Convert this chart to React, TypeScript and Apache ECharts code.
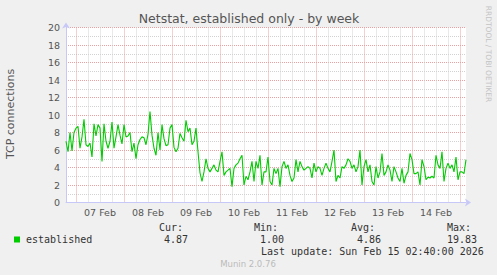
import React, { useEffect, useRef } from 'react';
import * as echarts from 'echarts';

// Hourly samples of established TCP connections, starting Feb 06 19:00
const feb06 = [7.0, 5.8, 8.0, 5.9, 8.0];
const feb07 = [8.5, 8.7, 6.2, 7.5, 9.5, 6.6, 6.4, 6.8, 5.2, 9.0, 7.6, 8.9, 8.5, 4.7, 9.0, 7.0, 6.2, 7.0, 9.2, 6.2, 7.5, 8.9, 7.7, 6.7];
const feb08 = [8.9, 7.5, 7.6, 8.0, 5.8, 6.8, 5.0, 6.6, 7.2, 7.5, 7.4, 6.6, 7.8, 10.4, 7.7, 6.2, 5.4, 8.0, 6.0, 8.9, 7.3, 6.5, 6.6, 8.5];
const feb09 = [8.9, 6.3, 5.8, 6.2, 7.9, 7.4, 7.0, 9.4, 8.1, 8.5, 6.6, 7.0, 8.5, 5.8, 3.4, 2.4, 3.5, 5.0, 3.9, 3.5, 3.9, 4.3, 3.7, 3.5];
const feb10 = [4.7, 5.8, 3.1, 3.5, 3.7, 3.9, 1.8, 3.9, 4.3, 4.5, 5.0, 5.4, 2.0, 3.0, 2.6, 3.5, 4.7, 2.4, 4.7, 3.9, 5.4, 2.0, 3.5, 3.5];
const feb11 = [5.2, 2.4, 2.0, 3.9, 3.3, 3.9, 1.8, 4.1, 4.7, 3.9, 4.3, 3.1, 2.4, 2.8, 4.9, 3.5, 4.7, 4.1, 3.7, 3.9, 4.1, 3.9, 2.8, 4.5];
const feb12 = [3.5, 4.1, 3.9, 3.1, 3.9, 4.5, 3.9, 3.5, 4.7, 6.0, 2.4, 3.1, 2.8, 4.1, 3.9, 4.3, 5.0, 4.7, 3.9, 4.3, 3.5, 4.1, 6.0, 2.0];
const feb13 = [4.1, 4.9, 3.5, 4.3, 2.4, 2.0, 4.1, 2.8, 3.5, 5.6, 3.1, 3.5, 4.3, 3.7, 2.4, 4.1, 3.5, 2.8, 2.4, 3.9, 2.2, 3.1, 3.5, 5.6];
const feb14 = [4.9, 3.3, 3.3, 3.5, 2.0, 4.9, 4.1, 2.6, 2.9, 2.8, 3.0, 2.8, 5.4, 4.3, 3.9, 5.8, 2.4, 3.9, 4.5, 3.9, 4.3, 3.5, 5.2, 2.6];
const feb15 = [3.5, 3.5, 3.3, 4.9];

const connections = [...feb06, ...feb07, ...feb08, ...feb09, ...feb10, ...feb11, ...feb12, ...feb13, ...feb14, ...feb15];

const dayLabels = ['07 Feb', '08 Feb', '09 Feb', '10 Feb', '11 Feb', '12 Feb', '13 Feb', '14 Feb'];
const firstNoonHour = 17; // Feb 07 12:00 relative to Feb 06 19:00
const xMaxHours = 200;
const yMax = 20;

const title = 'Netstat, established only - by week';
const yName = 'TCP connections';
const seriesName = 'established';
const statLabels = ['Cur:', 'Min:', 'Avg:', 'Max:'];
const statValues = ['4.87', '1.00', '4.86', '19.83'];
const lastUpdate = 'Last update: Sun Feb 15 02:40:00 2026';
const sideText = 'RRDTOOL / TOBI OETIKER';
const footer = 'Munin 2.0.76';

const RED = '#eaa0a0';
const GREY = '#d2d2d2';
const NONE = 'rgba(0,0,0,0)';
const AXIS = '#c8c8f8';

const xLineColors = Array.from({ length: 24 }, (_, k) =>
  k === 5 ? RED : k === 11 || k === 17 || k === 23 ? GREY : NONE
);

const statLabelX = [159, 254, 351, 447];
const statValueX = [164, 260, 357, 447];

export default function App() {
  const ref = useRef<HTMLDivElement>(null);
  useEffect(() => {
    if (!ref.current) return;
    const chart = echarts.init(ref.current, undefined, { renderer: 'svg' });
    const mono = { fontFamily: 'DejaVu Sans Mono', fontSize: 10, fill: '#333' };
    const graphics: any[] = [
      { type: 'text', x: 249, y: 18, style: { text: title, textAlign: 'center', textVerticalAlign: 'middle', fontFamily: 'DejaVu Sans', fontSize: 12.5, fill: '#555' } },
      { type: 'text', x: 10, y: 114, rotation: Math.PI / 2, style: { text: yName, textAlign: 'center', textVerticalAlign: 'middle', fontFamily: 'DejaVu Sans', fontSize: 11, fill: '#555' } },
      { type: 'text', x: 488.5, y: 54, rotation: -Math.PI / 2, style: { text: sideText, textAlign: 'center', textVerticalAlign: 'middle', fontFamily: 'DejaVu Sans', fontSize: 7.5, fill: '#c4c4c4' } },
      { type: 'rect', shape: { x: 14, y: 236.5, width: 6, height: 6 }, style: { fill: '#00cc00' } },
      { type: 'text', x: 26, y: 239.5, style: { ...mono, text: seriesName, textVerticalAlign: 'middle' } },
      ...statLabels.map((t, i) => ({ type: 'text', x: statLabelX[i], y: 227.5, style: { ...mono, text: t, textVerticalAlign: 'middle' } })),
      ...statValues.map((t, i) => ({ type: 'text', x: statValueX[i], y: 239.5, style: { ...mono, text: t, textVerticalAlign: 'middle' } })),
      { type: 'text', x: 261, y: 251.5, style: { ...mono, text: lastUpdate, textVerticalAlign: 'middle' } },
      { type: 'text', x: 248, y: 264, style: { text: footer, textAlign: 'center', textVerticalAlign: 'middle', fontFamily: 'DejaVu Sans', fontSize: 8.5, fill: '#bbb' } },
    ];
    chart.setOption({
      animation: false,
      backgroundColor: '#f0f0f0',
      grid: { left: 66, right: 31, top: 27.5, bottom: 72.5, show: true, backgroundColor: '#fff', borderWidth: 0 },
      xAxis: {
        type: 'value',
        min: 0,
        max: xMaxHours,
        interval: 1,
        axisLine: { show: true, onZero: false, lineStyle: { color: AXIS, width: 1 }, symbol: ['none', 'arrow'], symbolSize: [6, 6], symbolOffset: [0, 5] },
        axisTick: { show: false },
        axisLabel: {
          margin: 5,
          fontFamily: 'DejaVu Sans',
          fontSize: 9.5,
          color: '#555',
          formatter: (v: number) => {
            const d = (v - firstNoonHour) / 24;
            return Number.isInteger(d) && d >= 0 && d < dayLabels.length ? dayLabels[d] : '';
          },
        },
        splitLine: { show: true, lineStyle: { color: xLineColors, type: [1, 1], width: 1 } },
      },
      yAxis: {
        type: 'value',
        min: 0,
        max: yMax,
        interval: 1,
        axisLine: { show: true, lineStyle: { color: AXIS, width: 1 }, symbol: ['none', 'arrow'], symbolSize: [6, 6], symbolOffset: [0, 5] },
        axisTick: { show: false },
        axisLabel: {
          margin: 6,
          fontFamily: 'DejaVu Sans',
          fontSize: 9.5,
          color: '#555',
          formatter: (v: number) => (v % 2 === 0 ? String(v) : ''),
        },
        splitLine: { show: true, lineStyle: { color: [RED, GREY], type: [1, 1], width: 1 } },
      },
      series: [
        {
          name: seriesName,
          type: 'line',
          data: connections.map((v, i) => [i, v]),
          showSymbol: false,
          symbol: 'none',
          lineStyle: { color: '#00cc00', width: 1.1 },
          z: 3,
        },
      ],
      graphic: graphics,
    });
    return () => chart.dispose();
  }, []);
  return <div ref={ref} style={{ position: 'fixed', left: 0, top: 0, width: 497, height: 275 }} />;
}
